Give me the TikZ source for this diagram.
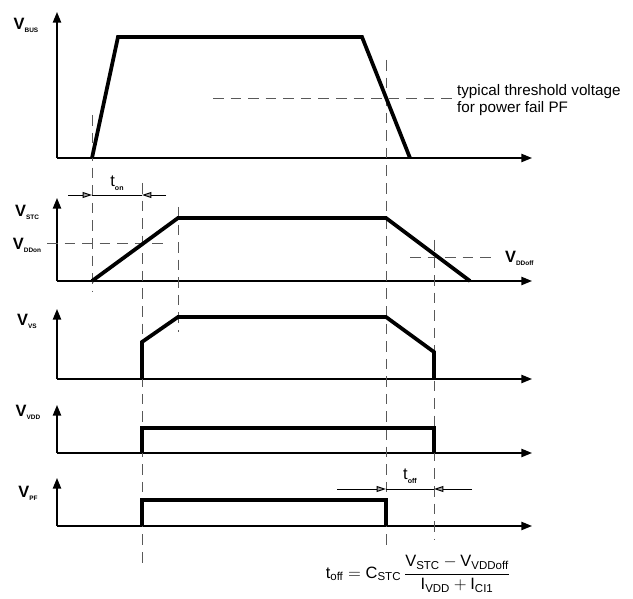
\documentclass[tikz,border=0pt]{standalone}
\usepackage{fontspec}
\setmainfont{Liberation Sans}
\usepackage{amsmath}
\usetikzlibrary{arrows.meta,positioning,calc}

\newcommand{\siglabel}[2]{#1\raisebox{-0.35ex}{\fontsize{5.5}{6}\selectfont\bfseries #2}}

\begin{document}
\begin{tikzpicture}[
    x=0.03cm, y=-0.03cm,
    axis/.style={line width=1.3pt, -{Triangle[length=9pt,width=7pt]}},
    wave/.style={line width=3.2pt, line join=miter},
    guide/.style={draw=black!65, line width=0.7pt, dash pattern=on 9pt off 6pt},
    dim/.style={line width=0.8pt, -{Triangle[length=8pt,width=5pt,fill=black!35]}},
    sig/.style={font=\fontsize{14}{16}\selectfont\bfseries},
    note/.style={font=\fontsize{13}{14.5}\selectfont, align=left}
]
    \useasboundingbox (0,0) rectangle (633,599);

    % axes
    \draw[axis] (57,158) -- (57,12);
    \draw[axis] (57,158) -- (532,158);
    \draw[axis] (57,281) -- (57,198);
    \draw[axis] (57,281) -- (532,281);
    \draw[axis] (57,379) -- (57,309);
    \draw[axis] (57,379) -- (532,379);
    \draw[axis] (57,453) -- (57,405);
    \draw[axis] (57,453) -- (532,453);
    \draw[axis] (57,526) -- (57,478);
    \draw[axis] (57,526) -- (532,526);

    \node[sig] (VBUS) at (26,25) {\siglabel{V}{BUS}};
    \node[sig] (VSTC) at (27,212) {\siglabel{V}{STC}};
    \node[sig] (VDDON) at (27,245) {\siglabel{V}{DDon}};
    \node[sig] (VVS) at (27,321) {\siglabel{V}{VS}};
    \node[sig] (VVDD) at (28,412) {\siglabel{V}{VDD}};
    \node[sig] (VPF) at (28,493) {\siglabel{V}{PF}};

    % guide lines
    \draw[guide] (92,115) -- (92,292);
    \draw[guide] (142,183) -- (142,568);
    \draw[guide] (178,207) -- (178,332);
    \draw[guide] (386,60) -- (386,552);
    \draw[guide] (434,240) -- (434,540);
    \draw[guide] (213,98) -- (455,98);
    \draw[guide] (47,243) -- (168,243);
    \draw[guide] (410,257) -- (497,257);

    \node[note, anchor=west] (THRESHOLD) at (453,100) {typical threshold voltage\\for power fail PF};
    \node[sig, anchor=west] (VDDOFF) at (501,258) {\siglabel{V}{DDoff}};

    % waveforms
    \draw[wave] (92,158) -- (118,37) -- (362,37) -- (410,158);
    \draw[wave] (92,281) -- (178,218) -- (386,218) -- (470,281);
    \draw[wave] (142,379) -- (142,342) -- (178,317) -- (386,317) -- (434,352) -- (434,379);
    \draw[wave] (142,453) -- (142,428) -- (434,428) -- (434,453);
    \draw[wave] (142,526) -- (142,500) -- (386,500) -- (386,526);

    % timing marks
    \draw[dim] (68,195) -- (92,195);
    \draw[line width=0.8pt] (92,195) -- (142,195);
    \draw[dim] (166,195) -- (142,195);
    \node[font=\fontsize{14}{15}\selectfont] (TON) at (117,183) {t\raisebox{-0.5ex}{\fontsize{6}{7}\selectfont\bfseries on}};

    \draw[dim] (337,489) -- (386,489);
    \draw[line width=0.8pt] (386,489) -- (434,489);
    \draw[dim] (472,489) -- (434,489);
    \node[font=\fontsize{14}{15}\selectfont] (TOFF) at (410,476) {t\raisebox{-0.5ex}{\fontsize{6}{7}\selectfont\bfseries off}};

    \node[font=\fontsize{14}{16}\selectfont] (FORMULA) at (418,574)
        {$\text{t}_{\text{off}} = \text{C}_{\text{STC}}\,\dfrac{\text{V}_{\text{STC}} - \text{V}_{\text{VDDoff}}}{\text{I}_{\text{VDD}} + \text{I}_{\text{CI1}}}$};
\end{tikzpicture}
\end{document}
